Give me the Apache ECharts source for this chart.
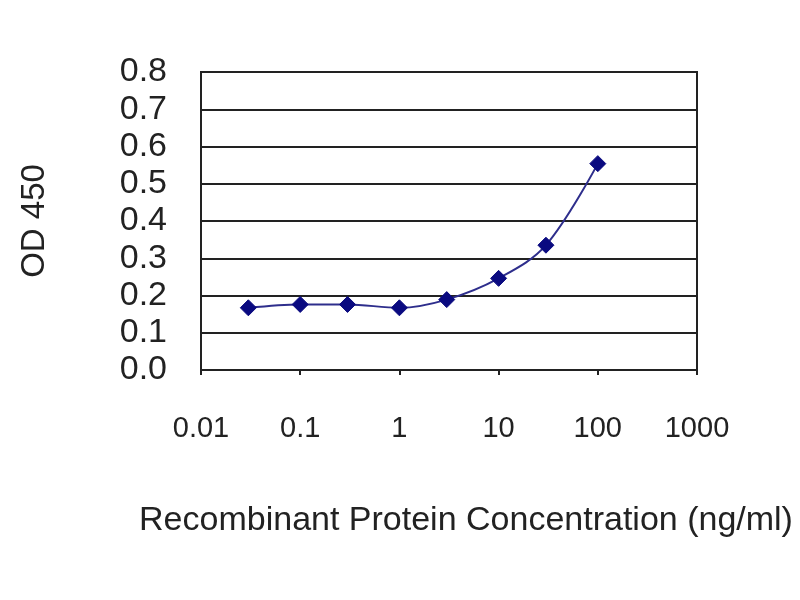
<!DOCTYPE html>
<html>
<head>
	<meta charset="utf-8">
	<title>OD 450</title>
	<script src="https://cdn.jsdelivr.net/npm/echarts@6/dist/echarts.min.js"></script>
	<style>
		html,body {margin:0;padding:0;background:#fff;}
		#chart {width:800px;height:600px;}
	</style>
</head>
<body>
	<div id="chart"></div>
<script type="text/javascript">
	// concentration (ng/ml) and measured OD 450
	var concentrations = [0.03, 0.1, 0.3, 1, 3, 10, 30, 100];
	var odValues = [0.167, 0.176, 0.176, 0.167, 0.189, 0.246, 0.335, 0.554];
	var xTicks = ['0.01','0.1','1','10','100','1000'];
	var yTicks = ['0.0','0.1','0.2','0.3','0.4','0.5','0.6','0.7','0.8'];

	var points = [];
	for(var i=0;i<concentrations.length;i++){
		points.push([concentrations[i], odValues[i]]);
	}

	var chart = echarts.init(document.getElementById('chart'));
	var option = {
		backgroundColor:'#fff',
		animation:false,
		grid: {
			left:201,
			right:103,
			top:72,
			bottom:230,
			show:true,
			borderColor:'#222',
			borderWidth:2
		},
		xAxis: {
			type:'log',
			logBase:10,
			min:0.01,
			max:1000,
			name:'Recombinant Protein Concentration (ng/ml)',
			nameLocation:'middle',
			nameGap:134,
			nameTextStyle:{
				color:'#222',
				fontSize:34,
				fontFamily:'Liberation Sans',
				padding:[0,0,0,34]
			},
			axisLine:{show:true,lineStyle:{color:'#222',width:2}},
			axisTick:{show:true,length:5,lineStyle:{color:'#222',width:2}},
			splitLine:{show:false},
			axisLabel:{
				color:'#222',
				fontSize:29,
				fontFamily:'Liberation Sans',
				margin:44,
				formatter:function(v){
					return xTicks[Math.round(Math.log(v)/Math.LN10)+2];
				}
			}
		},
		yAxis: {
			type:'value',
			min:0,
			max:0.8,
			interval:0.1,
			name:'OD 450',
			nameLocation:'middle',
			nameGap:150,
			nameTextStyle:{
				color:'#222',
				fontSize:33,
				fontFamily:'Liberation Sans'
			},
			axisLine:{show:true,lineStyle:{color:'#222',width:2}},
			axisTick:{show:false},
			splitLine:{show:true,lineStyle:{color:'#222',width:2}},
			axisLabel:{
				color:'#222',
				fontSize:34,
				fontFamily:'Liberation Sans',
				margin:34,
				formatter:function(v){
					return yTicks[Math.round(v*10)];
				}
			}
		},
		series: [
			{
				type:'line',
				data:points,
				smooth:0.35,
				symbol:'diamond',
				symbolSize:16,
				lineStyle:{color:'#2e2e8c',width:2},
				itemStyle:{color:'#0a0a80',borderColor:'#0a0a80'}
			}
		]
	};
	chart.setOption(option);
</script>
</body>
</html>
